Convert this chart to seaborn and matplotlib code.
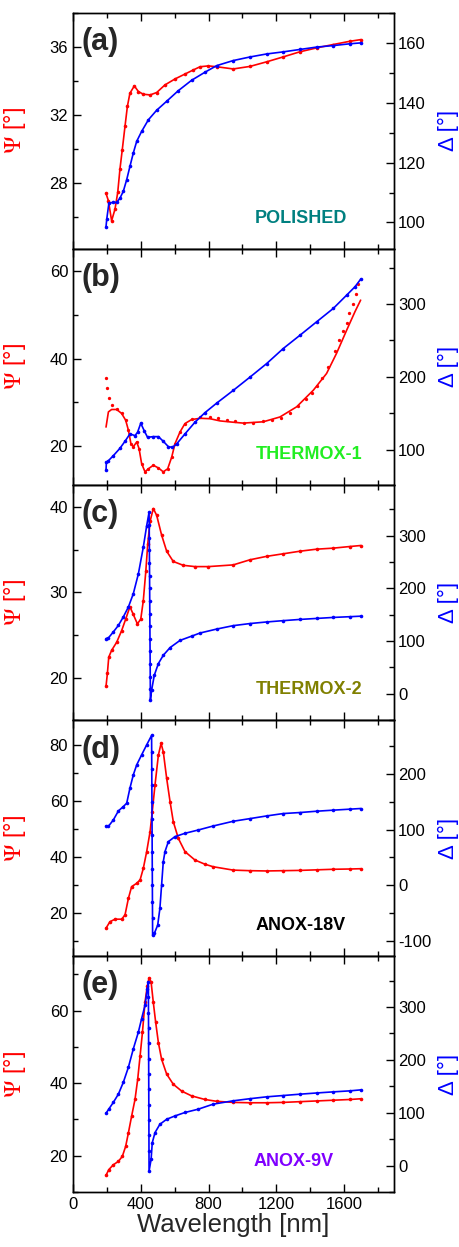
import matplotlib
matplotlib.use("Agg")
import matplotlib.pyplot as plt
from matplotlib.ticker import MultipleLocator, AutoMinorLocator
import seaborn as sns

# ---------------- data: ellipsometric angles vs wavelength ----------------
# (a) polished
wl_a_psi = [195, 209, 228, 248, 264, 277, 291, 307, 321, 336, 362, 386, 415, 455,
            494, 543, 602, 661, 710, 750, 799, 848, 946, 1045, 1143, 1241, 1339,
            1438, 1536, 1634, 1699]
psi_a = [27.36, 26.93, 25.75, 26.44, 27.42, 28.78, 29.95, 31.32, 32.49, 33.27, 33.70,
         33.37, 33.21, 33.17, 33.31, 33.76, 34.11, 34.40, 34.64, 34.83, 34.88, 34.83,
         34.70, 34.85, 35.12, 35.41, 35.71, 35.94, 36.14, 36.33, 36.43]
wl_a_delta = [195, 199, 212, 238, 258, 277, 297, 317, 336, 356, 376, 405, 445, 494,
              553, 621, 700, 779, 848, 946, 1045, 1143, 1241, 1339, 1438, 1536, 1634, 1699]
delta_a = [98.6, 101.0, 106.5, 106.7, 106.7, 108.1, 110.4, 114.3, 118.7, 123.2, 127.1,
           130.4, 134.3, 137.5, 140.5, 144.0, 147.5, 150.2, 152.4, 154.1, 155.3, 156.3,
           157.0, 157.8, 158.6, 159.1, 159.7, 160.0]

# (b) thermal oxide 1 : measured points and model curve for Psi
wl_b_psi_fit = [195, 209, 228, 258, 287, 311, 327, 342, 356, 376, 390, 405, 425, 445,
                474, 504, 533, 559, 583, 602, 632, 661, 700, 750, 809, 868, 946, 1005,
                1123, 1222, 1320, 1419, 1497, 1556, 1616, 1665, 1698]
psi_b_fit = [24.4, 27.85, 28.4, 28.4, 27.5, 25.95, 23.7, 20.6, 19.9, 21.0, 19.5, 16.1,
             14.2, 14.9, 15.7, 15.1, 14.2, 14.9, 17.6, 20.6, 23.3, 25.2, 26.1, 26.4,
             26.3, 25.8, 25.5, 25.3, 25.6, 26.7, 29.0, 32.8, 36.6, 41.2, 46.5, 50.7, 53.3]
wl_b_psi_meas = [195, 203, 215, 232, 258, 287, 311, 327, 342, 356, 376, 390, 405, 425,
                 445, 474, 504, 533, 559, 583, 602, 632, 661, 700, 750, 809, 858, 907,
                 956, 1011, 1064, 1120, 1173, 1228, 1281, 1330, 1375, 1409, 1438, 1472,
                 1507, 1547, 1572, 1596, 1616, 1631, 1651, 1671, 1684]
psi_b_meas = [35.6, 33.3, 31.1, 29.5, 28.6, 27.6, 26.0, 23.7, 20.6, 19.9, 21.0, 19.5,
              16.1, 14.2, 14.9, 15.7, 15.1, 14.2, 14.9, 17.6, 20.6, 23.3, 25.2, 26.2,
              26.6, 26.7, 26.5, 25.95, 25.7, 25.4, 25.4, 25.7, 25.95, 26.5, 27.6, 29.15,
              30.7, 32.2, 33.7, 35.6, 38.0, 41.8, 44.2, 46.2, 48.2, 50.4, 52.4, 54.8, 56.9]
wl_b_delta = [195, 197, 209, 238, 277, 307, 336, 366, 381, 400, 420, 440, 474, 504,
              533, 563, 587, 612, 661, 720, 779, 848, 946, 1045, 1143, 1241, 1340, 1438,
              1537, 1616, 1665, 1698]
delta_b = [72.0, 82.5, 84.8, 91.7, 101.8, 111.5, 121.6, 119.3, 123.8, 136.3, 126.2,
           117.0, 117.9, 117.9, 111.5, 104.1, 103.2, 107.9, 121.6, 137.7, 150.8, 163.9,
           181.4, 199.7, 218.2, 238.9, 257.2, 275.6, 294.1, 312.4, 323.9, 334.1]

# (c) thermal oxide 2
wl_c_psi = [195, 203, 211, 228, 258, 287, 311, 336, 356, 380, 400, 415, 430, 441, 455,
            474, 494, 523, 553, 592, 651, 720, 799, 946, 1045, 1143, 1241, 1339, 1438,
            1536, 1634, 1699]
psi_c = [19.0, 20.5, 22.4, 23.2, 24.15, 25.5, 26.85, 28.3, 27.4, 26.3, 26.85, 29.0,
         32.5, 35.6, 38.3, 39.8, 39.0, 36.7, 34.8, 33.6, 33.15, 33.0, 33.0, 33.2, 33.8,
         34.2, 34.5, 34.8, 35.04, 35.16, 35.35, 35.47]
wl_c_delta = [195, 209, 238, 268, 297, 327, 356, 386, 415, 435, 449,
              450, 450.5, 451, 451.5, 452, 452.5, 453, 453.5, 454, 454.5, 455, 455.5,
              456, 456.5, 457, 464, 480, 504, 533, 573, 632, 700, 750, 848, 946, 1045,
              1143, 1241, 1339, 1438, 1536, 1634, 1699]
delta_c = [104.4, 105.7, 117.0, 129.5, 145.5, 164.4, 189.6, 227.5, 278.0, 318.9, 344.3,
           320, 296, 272, 248, 224, 200, 176, 152, 128, 104, 80, 56, 32, 8, -12.5,
           6.4, 34.8, 57.0, 72.7, 87.3, 101.0, 109.0, 115.0, 122.5, 129.0, 133.0, 136.0,
           138.5, 140.8, 142.7, 144.6, 146.0, 147.0]

# (d) anodic oxide 18 V
wl_d_psi = [195, 218, 248, 287, 307, 327, 346, 376, 396, 415, 435, 455, 468, 484, 504,
            520, 533, 553, 573, 592, 622, 661, 720, 779, 828, 946, 1045, 1143, 1241,
            1339, 1438, 1536, 1634, 1699]
psi_d = [14.7, 17.0, 17.9, 17.9, 19.4, 25.3, 29.5, 30.7, 31.9, 36.0, 42.0, 49.1, 56.3,
         65.7, 76.4, 80.6, 77.6, 68.1, 59.8, 52.7, 46.7, 42.0, 39.0, 37.5, 36.6, 35.4,
         35.2, 35.1, 35.2, 35.3, 35.5, 35.7, 35.8, 35.9]
wl_d_delta = [195, 209, 238, 268, 297, 317, 336, 356, 376, 405, 435, 464,
              464.5, 465, 465.5, 466, 466.5, 467, 467.5, 468, 468.5, 469, 469.5, 470,
              480, 500, 513, 523, 533, 543, 563, 602, 661, 740, 828, 946, 1045, 1143,
              1241, 1339, 1438, 1536, 1634, 1699]
delta_d = [106.7, 106.0, 117.5, 133.8, 141.7, 147.7, 174.7, 198.8, 216.8, 234.8, 252.9,
           269.9, 240, 210, 180, 150, 120, 90, 60, 30, 0, -30, -60, -90,
           -87, -72, -41.9, 0.2, 42.4, 60.5, 78.5, 87.5, 93.5, 99.5, 106.7, 115.2, 120.0,
           124.8, 129.1, 130.9, 133.3, 135.2, 137.0, 138.2]

# (e) anodic oxide 9 V
wl_e_psi = [195, 211, 238, 268, 291, 311, 327, 346, 366, 382, 396, 410, 425, 439, 449,
            461, 474, 488, 504, 523, 553, 592, 642, 700, 779, 848, 946, 1045, 1143, 1241,
            1339, 1438, 1536, 1634, 1699]
psi_e = [14.6, 16.15, 17.5, 18.45, 19.8, 22.6, 26.3, 30.9, 35.5, 41.1, 47.5, 54.0, 62.3,
         66.9, 69.0, 67.9, 62.3, 56.8, 51.2, 46.6, 42.5, 39.7, 37.8, 36.5, 35.5, 35.0,
         34.7, 34.6, 34.6, 34.7, 34.9, 35.1, 35.3, 35.5, 35.7]
wl_e_delta = [195, 211, 238, 268, 297, 327, 356, 386, 405, 425, 439, 445,
              445.3, 445.6, 446, 446.3, 446.6, 447, 447.3, 447.6, 448, 448.3, 448.6, 449,
              461, 468, 484, 513, 553, 602, 661, 740, 828, 946, 1045, 1143, 1241, 1339,
              1438, 1536, 1634, 1699]
delta_e = [99.0, 106.7, 119.4, 135.2, 157.4, 185.9, 220.7, 252.5, 277.8, 303.0, 334.8,
           347.5, 318, 289, 260, 231, 202, 173, 144, 115, 86, 57, 28, -10.6,
           11.6, 43.3, 62.3, 78.1, 87.6, 93.9, 100.4, 106.7, 116.2, 122.5, 126.5, 130.0,
           132.5, 135.0, 137.3, 139.4, 141.3, 143.2]

panel_tags = ["(a)", "(b)", "(c)", "(d)", "(e)"]
sample_names = ["POLISHED", "THERMOX-1", "THERMOX-2", "ANOX-18V", "ANOX-9V"]
sample_colors = ["#008080", "#22EE22", "#808000", "#000000", "#8000FF"]
psi_limits = [(24.1, 38.0), (11.3, 65.0), (15.0, 42.6), (4.7, 88.8), (10.0, 75.0)]
delta_limits = [(91.2, 170.0), (52.0, 376.0), (-51.0, 397.0), (-128.0, 297.0), (-50.0, 396.0)]
psi_steps = [4, 20, 10, 20, 20]
delta_steps = [20, 100, 100, 100, 100]
x_ticks = [0, 400, 800, 1200, 1600]
name_x = [0.855, 0.902, 0.902, 0.848, 0.812]

# ---------------- style ----------------
sns.set_style("ticks")
plt.rcParams["font.family"] = ["Liberation Sans", "DejaVu Sans"]
plt.rcParams["mathtext.fontset"] = "stix"
plt.rcParams["axes.linewidth"] = 1.0
plt.rcParams["axes.unicode_minus"] = False
plt.rcParams["xtick.color"] = "black"
plt.rcParams["ytick.color"] = "black"
plt.rcParams["axes.edgecolor"] = "black"

RED = "#FF0000"
BLUE = "#0000FF"
LW = 1.2
MS = 2.6

fig, axes = plt.subplots(5, 1, figsize=(4.6, 12.47), dpi=100, sharex=True,
                         gridspec_kw=dict(hspace=0))
fig.subplots_adjust(left=0.1587, right=0.8565, top=0.9896, bottom=0.0441)


def curve(ax, x, y, color, line=True, dots=True):
    if line:
        sns.lineplot(x=x, y=y, ax=ax, color=color, linewidth=LW,
                     marker="o" if dots else None, markersize=MS,
                     markeredgewidth=0, estimator=None, sort=False)
    elif dots:
        sns.scatterplot(x=x, y=y, ax=ax, color=color, s=MS * 2.2,
                        linewidth=0, legend=False)


series = [
    ([(wl_a_psi, psi_a, True, True)], [(wl_a_delta, delta_a)]),
    ([(wl_b_psi_fit, psi_b_fit, True, False), (wl_b_psi_meas, psi_b_meas, False, True)],
     [(wl_b_delta, delta_b)]),
    ([(wl_c_psi, psi_c, True, True)], [(wl_c_delta, delta_c)]),
    ([(wl_d_psi, psi_d, True, True)], [(wl_d_delta, delta_d)]),
    ([(wl_e_psi, psi_e, True, True)], [(wl_e_delta, delta_e)]),
]

for i, ax in enumerate(axes):
    psi_sets, delta_sets = series[i]
    for x, y, ln, dt in psi_sets:
        curve(ax, x, y, RED, line=ln, dots=dt)
    ax2 = ax.twinx()
    for x, y in delta_sets:
        curve(ax2, x, y, BLUE)

    ax.set_xlim(0, 1895)
    ax.set_ylim(*psi_limits[i])
    ax2.set_ylim(*delta_limits[i])
    ax.xaxis.set_major_locator(MultipleLocator(400))
    ax.xaxis.set_minor_locator(MultipleLocator(200))
    ax.yaxis.set_major_locator(MultipleLocator(psi_steps[i]))
    ax.yaxis.set_minor_locator(AutoMinorLocator(2))
    ax2.yaxis.set_major_locator(MultipleLocator(delta_steps[i]))
    ax2.yaxis.set_minor_locator(AutoMinorLocator(2))

    for a in (ax, ax2):
        a.tick_params(which="both", direction="in", labelsize=12, width=1.0,
                      color="black", labelcolor="black")
        a.tick_params(which="major", length=6)
        a.tick_params(which="minor", length=3.5)
    ax.tick_params(which="both", top=True, bottom=True, left=True, right=False)
    ax2.tick_params(which="both", left=False, right=True, pad=3)

    ax.set_ylabel(r"$\Psi$ [°]", color=RED, fontsize=17)
    ax.yaxis.set_label_coords(-0.14, 0.5)
    ax2.set_ylabel("Δ [°]", color=BLUE, fontsize=16)
    ax2.yaxis.set_label_coords(1.136, 0.5)
    ax.set_xlabel("")

    ax.text(0.025, 0.94, panel_tags[i], transform=ax.transAxes, fontsize=22,
            fontweight="bold", ha="left", va="top")
    ax.text(name_x[i], 0.11, sample_names[i], transform=ax.transAxes, fontsize=13,
            fontweight="bold", color=sample_colors[i], ha="right", va="baseline")

    for sp in list(ax.spines.values()) + list(ax2.spines.values()):
        sp.set_visible(True)
        sp.set_color("black")

    if i < 4:
        ax.tick_params(labelbottom=False)

axes[-1].set_xticks(x_ticks)
axes[-1].set_xlabel("Wavelength [nm]", fontsize=18.5, labelpad=1)

fig.savefig("out.png", dpi=100)
